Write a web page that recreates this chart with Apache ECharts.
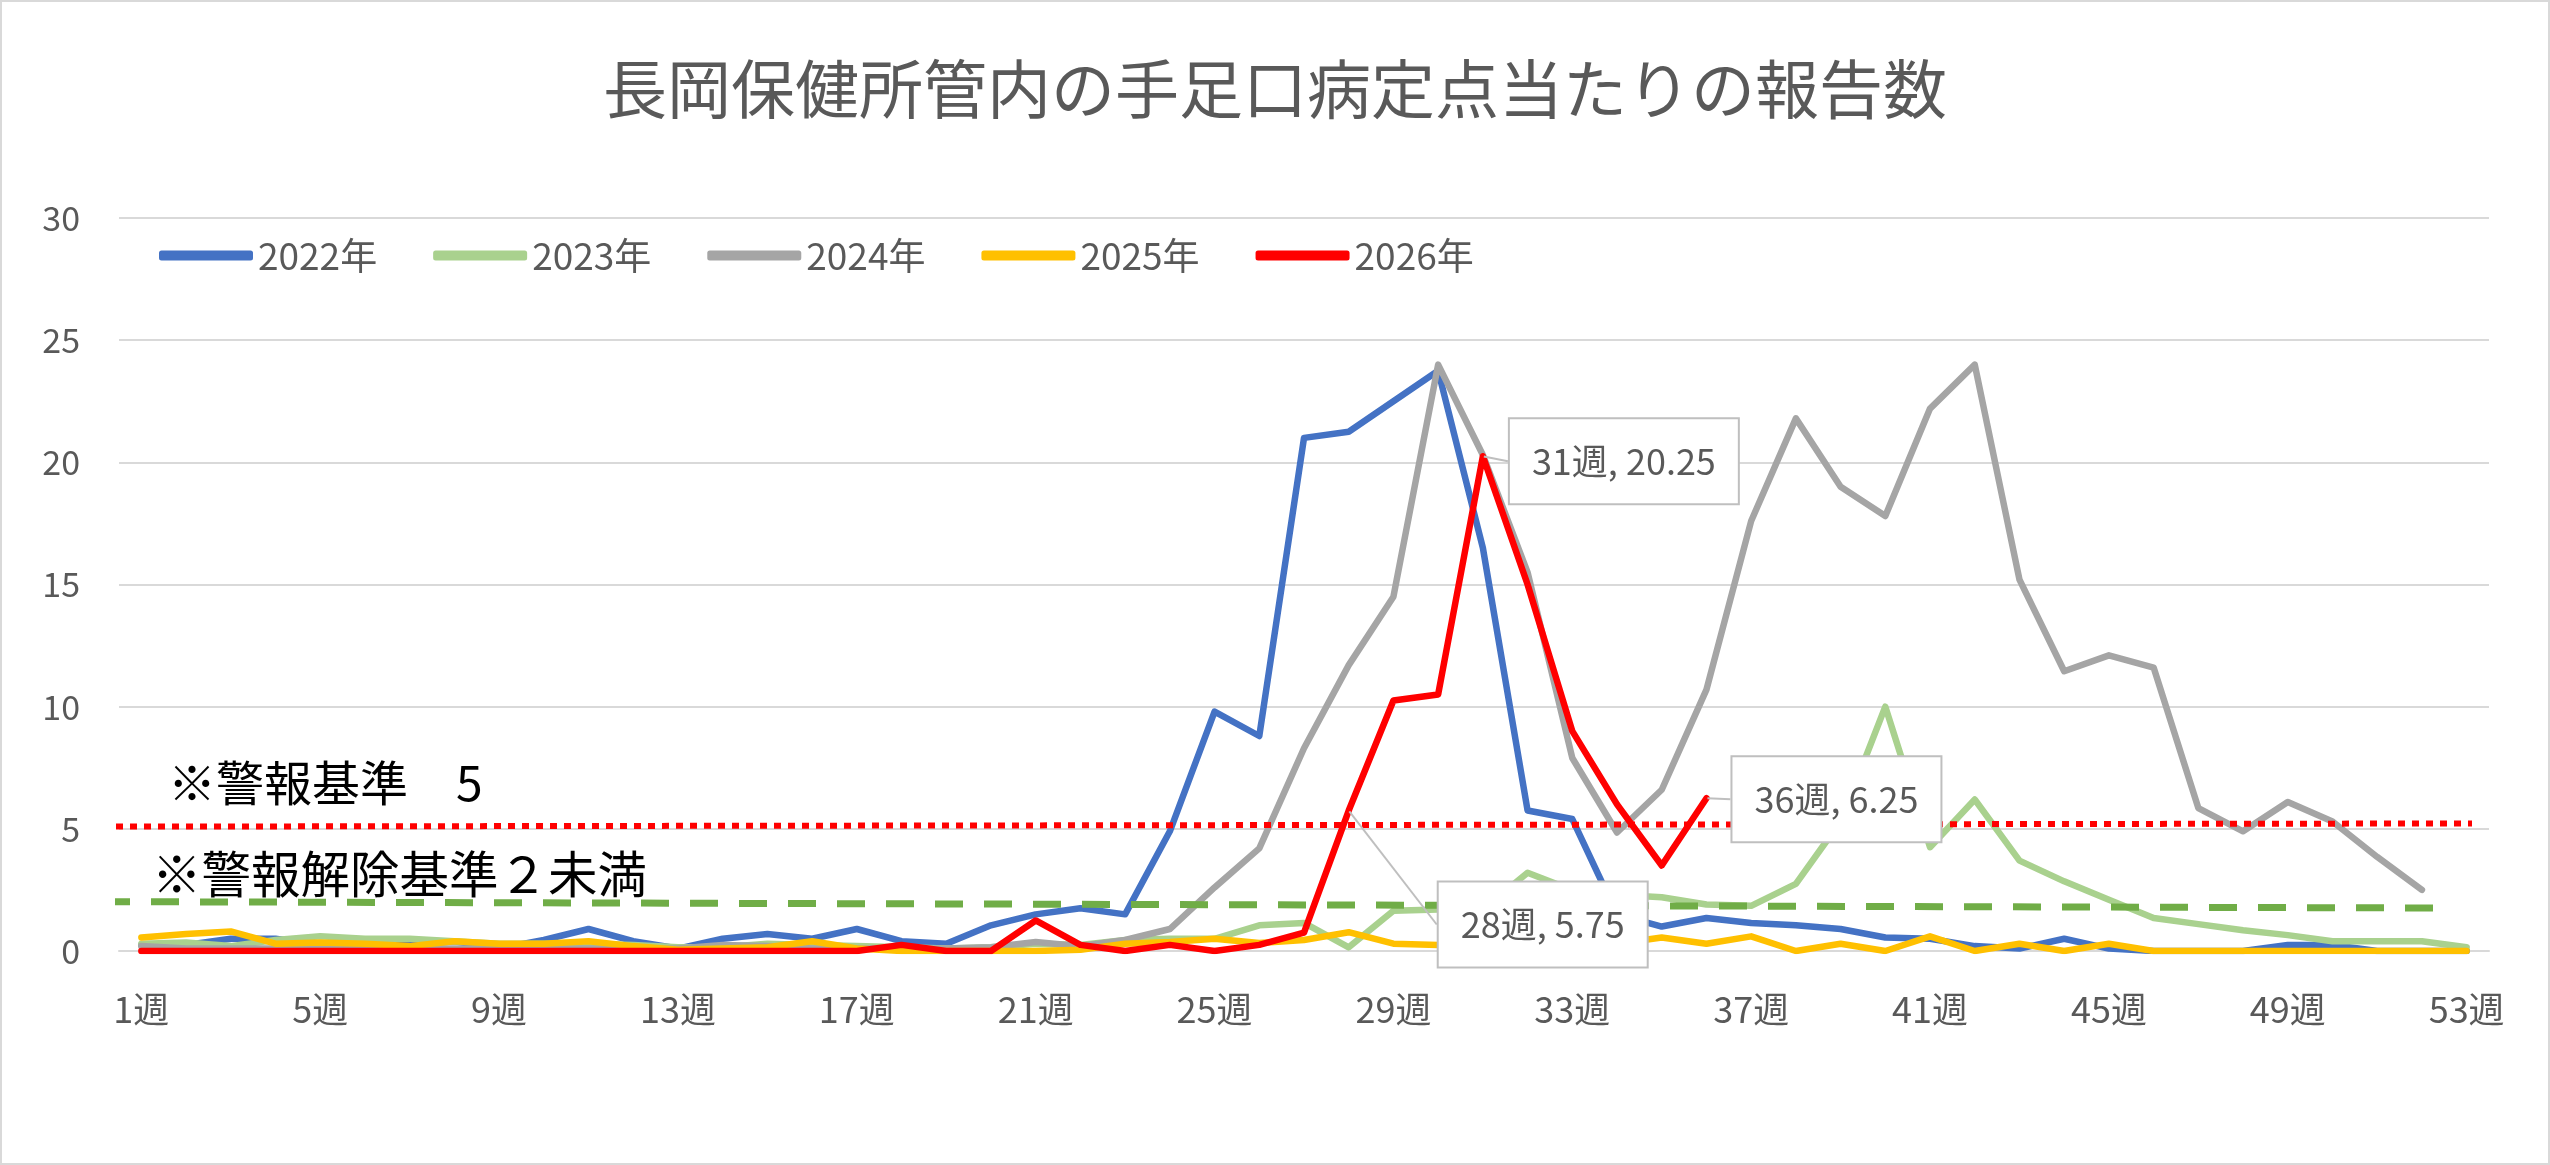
<!DOCTYPE html>
<html>
<head>
<meta charset="utf-8">
<script src="https://cdn.jsdelivr.net/npm/echarts@6/dist/echarts.min.js"></script>
<style>
html, body { margin: 0; padding: 0; background: #fff; }
#main { width: 2550px; height: 1165px; }
</style>
</head>
<body>
<div id="main"></div>
<script>
// 週ラベル
const weeks = ['1週','2週','3週','4週','5週','6週','7週','8週','9週','10週',
  '11週','12週','13週','14週','15週','16週','17週','18週','19週','20週',
  '21週','22週','23週','24週','25週','26週','27週','28週','29週','30週',
  '31週','32週','33週','34週','35週','36週','37週','38週','39週','40週',
  '41週','42週','43週','44週','45週','46週','47週','48週','49週','50週',
  '51週','52週','53週'];

const yearNames = ['2022年', '2023年', '2024年', '2025年', '2026年'];

const series2022 = [0.25,0.25,0.5,0.5,0.25,0.25,0.25,0.4,0.1,0.45,
  0.9,0.4,0.1,0.5,0.7,0.5,0.9,0.4,0.3,1.05,
  1.5,1.75,1.5,4.9,9.8,8.8,21.0,21.25,22.5,23.75,
  16.5,5.75,5.4,1.5,1.0,1.35,1.15,1.05,0.9,0.55,
  0.5,0.2,0.1,0.5,0.1,0,0,0,0.25,0.25,
  0,0,0];
const series2023 = [0.3,0.35,0.2,0.45,0.6,0.5,0.5,0.4,0.3,0.3,
  0.3,0.25,0.15,0.15,0.3,0.25,0.2,0.15,0.1,0.15,
  0.3,0.25,0.45,0.5,0.5,1.05,1.15,0.15,1.65,1.7,
  1.7,3.2,2.5,2.3,2.2,1.9,1.85,2.75,5.3,10.0,
  4.25,6.2,3.7,2.85,2.1,1.35,1.1,0.85,0.65,0.4,
  0.4,0.4,0.15];
const series2024 = [0.2,0.1,0.1,0.1,0.2,0.1,0.1,0.1,0.1,0.1,
  0.1,0.1,0.1,0.25,0.2,0.1,0.1,0.1,0.1,0.15,
  0.37,0.2,0.45,0.9,2.6,4.2,8.3,11.7,14.5,24.0,
  20.3,15.5,7.9,4.85,6.6,10.7,17.6,21.8,19.0,17.8,
  22.2,24.0,15.2,11.45,12.1,11.6,5.85,4.9,6.1,5.3,
  3.85,2.5,null];
const series2025 = [0.55,0.7,0.8,0.3,0.35,0.3,0.2,0.4,0.3,0.3,
  0.4,0.2,0.05,0.1,0.15,0.4,0.1,0,0,0,
  0,0.05,0.3,0.37,0.5,0.33,0.45,0.77,0.3,0.25,
  0.25,0.3,0.3,0.3,0.55,0.3,0.6,0,0.3,0,
  0.6,0,0.3,0,0.3,0,0,0,0,0,
  0,0,0];
const series2026 = [0,0,0,0,0,0,0,0,0,0,
  0,0,0,0,0,0,0,0.25,0,0,
  1.25,0.25,0,0.25,0,0.25,0.75,5.75,10.25,10.5,
  20.25,15.0,9.0,6.0,3.5,6.25];

// 基準線（週番号, 値）
const alertLine = [[0.12, 5.09], [53.12, 5.22]];
const releaseLine = [[0.12, 2.02], [52.3, 1.76]];

// データラベルを付ける週
const calloutWeeks = ['31週', '36週', '28週'];

const yTicks = [0, 5, 10, 15, 20, 25, 30];

const colors = ['#4472c4', '#a9d18e', '#a5a5a5', '#ffc000', '#ff0000'];
const font = 'Noto Sans CJK JP';
const calloutOffsets = [[141, 5], [130, 1], [194, 114]];

const chart = echarts.init(document.getElementById('main'));

const yearSeries = [series2022, series2023, series2024, series2025, series2026].map((d, i) => ({
  name: yearNames[i],
  type: 'line',
  data: d,
  symbol: 'none',
  showSymbol: false,
  color: colors[i],
  lineStyle: { width: 6.5, color: colors[i], cap: 'round', join: 'round' },
  z: 2
}));

const option = {
  animation: false,
  backgroundColor: '#fff',
  title: {
    text: '長岡保健所管内の手足口病定点当たりの報告数',
    left: 'center',
    top: 57,
    padding: 0,
    textStyle: { fontFamily: font, fontSize: 64, fontWeight: 'normal', color: '#595959' }
  },
  legend: {
    data: yearNames,
    left: 159,
    top: 237,
    padding: 0,
    itemGap: 56,
    itemWidth: 94,
    itemHeight: 10,
    icon: 'roundRect',
    textStyle: { fontFamily: font, fontSize: 37, color: '#595959' }
  },
  grid: { left: 119, right: 61, top: 218, bottom: 214 },
  xAxis: [{
    type: 'category',
    data: weeks,
    boundaryGap: true,
    axisTick: { show: false },
    axisLine: { lineStyle: { color: '#d9d9d9', width: 2 } },
    axisLabel: { interval: 3, margin: 40, fontFamily: font, fontSize: 36, color: '#595959' }
  }, {
    type: 'value',
    min: 0.5,
    max: 53.5,
    show: false
  }],
  yAxis: {
    type: 'value',
    min: yTicks[0],
    max: yTicks[yTicks.length - 1],
    interval: 5,
    axisLine: { show: false },
    axisTick: { show: false },
    splitLine: { lineStyle: { color: '#d9d9d9', width: 2 } },
    axisLabel: { margin: 39, fontFamily: font, fontSize: 34, color: '#595959' }
  },
  series: yearSeries.concat([
    {
      name: 'alert',
      type: 'line',
      xAxisIndex: 1,
      data: alertLine,
      symbol: 'none',
      clip: false,
      silent: true,
      lineStyle: { color: '#ff0000', width: 6, type: [7, 7], cap: 'butt' },
      z: 3
    },
    {
      name: 'release',
      type: 'line',
      xAxisIndex: 1,
      data: releaseLine,
      symbol: 'none',
      clip: false,
      silent: true,
      lineStyle: { color: '#70ad47', width: 7, type: [28, 21], cap: 'butt' },
      z: 3
    },
    {
      name: 'callout',
      type: 'scatter',
      data: calloutWeeks.map(w => ({ value: [w, series2026[weeks.indexOf(w)]] })),
      symbolSize: 2,
      itemStyle: { color: 'rgba(0,0,0,0)', opacity: 1 },
      label: {
        show: true,
        position: 'inside',
        formatter: p => p.value[0] + ', ' + p.value[1],
        fontFamily: font,
        fontSize: 36,
        color: '#595959',
        backgroundColor: '#fff',
        borderColor: '#bfbfbf',
        borderWidth: 2,
        padding: [24, 22]
      },
      labelLayout: p => ({ dx: calloutOffsets[p.dataIndex][0], dy: calloutOffsets[p.dataIndex][1] }),
      labelLine: { show: true, lineStyle: { color: '#bfbfbf', width: 2, opacity: 1 } },
      z: 10
    }
  ]),
  graphic: [
    {
      type: 'rect',
      silent: true,
      shape: { x: 1, y: 1, width: 2548, height: 1163 },
      style: { fill: null, stroke: '#d9d9d9', lineWidth: 2 }
    },
    {
      type: 'text',
      x: 168,
      y: 783,
      z: 20,
      style: { text: '※警報基準　5', fontFamily: font, fontSize: 48, fill: '#000', verticalAlign: 'middle' }
    },
    {
      type: 'text',
      x: 152,
      y: 874,
      z: 20,
      style: { text: '※警報解除基準２未満', fontFamily: font, fontSize: 49.5, fill: '#000', verticalAlign: 'middle' }
    }
  ]
};

chart.setOption(option);
</script>
</body>
</html>
